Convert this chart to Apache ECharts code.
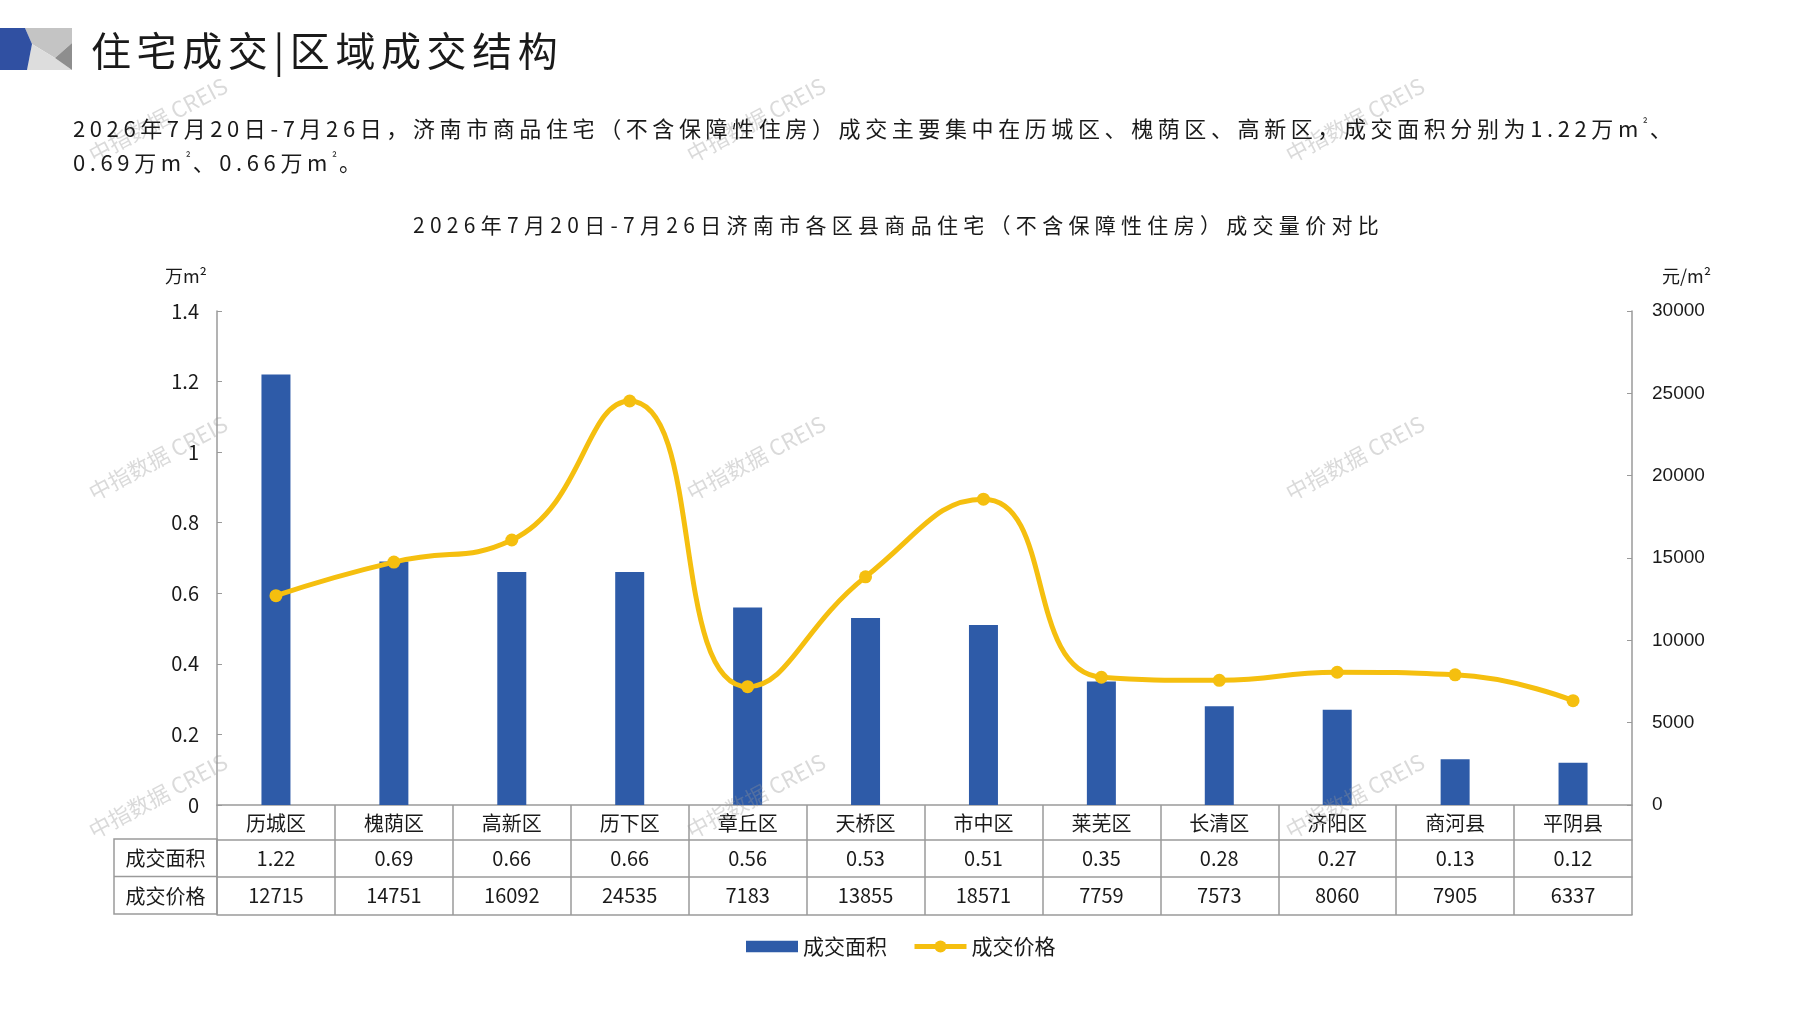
<!DOCTYPE html>
<html>
<head>
<meta charset="utf-8">
<script src="https://cdn.jsdelivr.net/npm/echarts@6/dist/echarts.min.js"></script>
<style>
  html,body{margin:0;padding:0;background:#fff;}
  #wrap{position:relative;width:1797px;height:1010px;overflow:hidden;font-family:"Noto Sans CJK SC","Noto Sans",sans-serif;color:#1a1a1a;}
  #main{position:absolute;left:0;top:0;width:1797px;height:1010px;}
  .hdr{position:absolute;left:91px;top:27px;font-size:40px;line-height:44px;letter-spacing:5.6px;white-space:nowrap;}
  .para{position:absolute;left:73px;top:110px;font-size:22px;line-height:34px;letter-spacing:4.6px;white-space:nowrap;}
  .para sup{font-size:12px;vertical-align:9px;line-height:0;letter-spacing:2px;}
  .ctitle{position:absolute;left:0;top:208px;width:1797px;text-align:center;font-size:21px;line-height:32px;letter-spacing:5.3px;white-space:nowrap;}
</style>
</head>
<body>
<div id="wrap">
  <div id="main"></div>
  <div class="hdr">住宅成交|区域成交结构</div>
  <div class="para">2026年7月20日-7月26日，济南市商品住宅（不含保障性住房）成交主要集中在历城区、槐荫区、高新区，成交面积分别为1.22万m<sup>²</sup>、<br>0.69万m<sup>²</sup>、0.66万m<sup>²</sup>。</div>
  <div class="ctitle">2026年7月20日-7月26日济南市各区县商品住宅（不含保障性住房）成交量价对比</div>
</div>
<script>
const categories = ['历城区','槐荫区','高新区','历下区','章丘区','天桥区','市中区','莱芜区','长清区','济阳区','商河县','平阴县'];
const areaValues = [1.22,0.69,0.66,0.66,0.56,0.53,0.51,0.35,0.28,0.27,0.13,0.12];
const priceValues = [12715,14751,16092,24535,7183,13855,18571,7759,7573,8060,7905,6337];
const seriesNames = ['成交面积','成交价格'];
const rowLabels = ['成交面积','成交价格'];
const axisNames = ['万m²','元/m²'];
const watermarkText = '中指数据 CREIS';

const BLUE = '#2E5BA8';
const YELLOW = '#F5BF0F';
const GRID_LINE = '#9a9a9a';
const TXT = '#1a1a1a';
const FONT = '"Noto Sans CJK SC","Noto Sans",sans-serif';

const chart = echarts.init(document.getElementById('main'));

function tableAxis(offset, formatter, showLabel) {
  return {
    type: 'category', data: categories, position: 'bottom', offset: offset,
    axisLine: {show: true, onZero: false, lineStyle: {color: GRID_LINE, width: 1.5}},
    axisTick: {show: false},
    axisLabel: {show: showLabel, interval: 0, margin: 8, fontSize: 20, color: TXT, fontFamily: FONT, formatter: formatter},
    splitLine: {show: false}
  };
}

const wmPos = [[158,120],[756,120],[1355,120],[158,458],[756,458],[1355,458],[158,796],[756,796],[1355,796]];
const watermarks = wmPos.map(p => ({
  type: 'text', x: p[0], y: p[1], rotation: 28 * Math.PI / 180, z: 100, silent: true,
  style: {text: watermarkText, fontSize: 22, fontFamily: FONT, fill: 'rgba(150,150,150,0.35)', align: 'center', verticalAlign: 'middle'}
}));

const option = {
  animation: false,
  textStyle: {fontFamily: FONT},
  grid: {left: 217, right: 165, top: 311, bottom: 205, containLabel: false},
  legend: {
    data: [
      {name: seriesNames[0], icon: 'path://M0,0H49V11H0Z'},
      {name: seriesNames[1]}
    ],
    left: 741, top: 931, itemWidth: 52, itemHeight: 15, itemGap: 25,
    lineStyle: {width: 5},
    textStyle: {fontSize: 21, color: TXT, fontFamily: FONT}
  },
  xAxis: [
    {
      type: 'category', data: categories, position: 'bottom',
      axisLine: {show: true, onZero: false, lineStyle: {color: GRID_LINE, width: 1.5}},
      axisTick: {show: true, length: 110, lineStyle: {color: GRID_LINE, width: 1.5}},
      axisLabel: {interval: 0, margin: 8, fontSize: 20, color: TXT, fontFamily: FONT},
      splitLine: {show: false}
    },
    tableAxis(35, (v, i) => areaValues[i].toFixed(2), true),
    tableAxis(72, (v, i) => String(priceValues[i]), true),
    tableAxis(110, null, false)
  ],
  yAxis: [
    {
      type: 'value', min: 0, max: 1.4, interval: 0.2, position: 'left',
      name: axisNames[0], nameLocation: 'end', nameGap: 26,
      nameTextStyle: {align: 'right', padding: [0, 10, 0, 0], fontSize: 18, color: TXT, fontFamily: FONT},
      axisLine: {show: true, lineStyle: {color: GRID_LINE, width: 1.5}},
      axisTick: {show: true, inside: true, length: 5, lineStyle: {color: GRID_LINE}},
      axisLabel: {margin: 18, fontSize: 20, color: TXT, fontFamily: FONT},
      splitLine: {show: false}
    },
    {
      type: 'value', min: 0, max: 30000, interval: 5000, position: 'right',
      name: axisNames[1], nameLocation: 'end', nameGap: 26,
      nameTextStyle: {align: 'left', padding: [0, 0, 0, 30], fontSize: 18, color: TXT, fontFamily: FONT},
      axisLine: {show: true, lineStyle: {color: GRID_LINE, width: 1.5}},
      axisTick: {show: true, inside: true, length: 5, lineStyle: {color: GRID_LINE}},
      axisLabel: {margin: 20, fontSize: 19, color: TXT, fontFamily: 'Liberation Sans, Arial, sans-serif', formatter: v => String(v)},
      splitLine: {show: false}
    }
  ],
  series: [
    {
      name: seriesNames[0], type: 'bar', xAxisIndex: 0, yAxisIndex: 0,
      data: areaValues, barWidth: 29, itemStyle: {color: BLUE}
    },
    {
      name: seriesNames[1], type: 'line', xAxisIndex: 0, yAxisIndex: 1,
      data: priceValues, smooth: 0.5, symbol: 'circle', symbolSize: 13,
      lineStyle: {width: 5, color: YELLOW}, itemStyle: {color: YELLOW}, z: 5
    }
  ],
  graphic: [
    {type: 'polygon', shape: {points: [[25,28],[72,28],[72,43],[55,58],[32,44]]}, style: {fill: '#c4c4c4'}},
    {type: 'polygon', shape: {points: [[32,44],[55,58],[72,70],[27,70]]}, style: {fill: '#dddddd'}},
    {type: 'polygon', shape: {points: [[72,43],[72,70],[55,58]]}, style: {fill: '#8e8e8e'}},
    {type: 'polygon', shape: {points: [[0,28],[25,28],[32,44],[27,70],[0,70]]}, style: {fill: '#3050A2'}},
    {type: 'rect', shape: {x: 114, y: 839, width: 103, height: 75}, style: {fill: 'none', stroke: GRID_LINE, lineWidth: 1.5}},
    {type: 'line', shape: {x1: 114, y1: 876.5, x2: 217, y2: 876.5}, style: {stroke: GRID_LINE, lineWidth: 1.5}},
    {type: 'text', x: 165.5, y: 858, style: {text: rowLabels[0], fontSize: 20, fontFamily: FONT, fill: TXT, align: 'center', verticalAlign: 'middle'}},
    {type: 'text', x: 165.5, y: 896, style: {text: rowLabels[1], fontSize: 20, fontFamily: FONT, fill: TXT, align: 'center', verticalAlign: 'middle'}}
  ].concat(watermarks)
};
chart.setOption(option);
</script>
</body>
</html>
